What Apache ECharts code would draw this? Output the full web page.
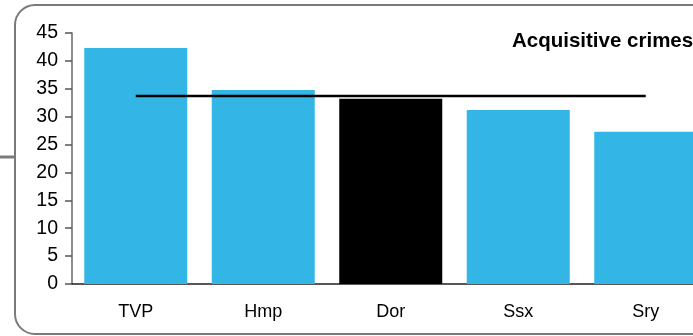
<!DOCTYPE html>
<html>
<head>
<meta charset="utf-8">
<script src="https://cdn.jsdelivr.net/npm/echarts@6/dist/echarts.min.js"></script>
<style>
html, body { margin:0; padding:0; overflow:hidden; background:#fff; }
#chart { width:720px; height:336px; }
</style>
</head>
<body>
<div id="chart"></div>
<script>
const categories = ['TVP', 'Hmp', 'Dor', 'Ssx', 'Sry'];
const values = [42.3, 34.8, 33.2, 31.2, 27.3];
const averageValue = 33.7;
const highlightCategory = 'Dor';
const yTicks = { min: 0, max: 45, interval: 5 };
const titleText = 'Acquisitive crimes';

const chart = echarts.init(document.getElementById('chart'), null, { renderer: 'canvas' });
const barData = values.map((v, i) => ({
  value: v,
  itemStyle: { color: categories[i] === highlightCategory ? '#000000' : '#33b6e6' }
}));
const avgData = categories.map(() => averageValue);

chart.setOption({
  animation: false,
  backgroundColor: '#ffffff',
  title: {
    text: titleText,
    left: 512,
    top: 31,
    padding: 0,
    textStyle: { fontFamily: 'Liberation Sans', fontWeight: 'bold', fontSize: 20.5, color: '#000' }
  },
  graphic: [
    { type: 'rect', shape: { x: 15, y: 5, width: 720, height: 329, r: 20 },
      style: { fill: 'none', stroke: '#7a7a7a', lineWidth: 2 }, z: -1 },
    { type: 'line', shape: { x1: 0, y1: 157, x2: 15, y2: 157 },
      style: { stroke: '#7a7a7a', lineWidth: 3 } }
  ],
  grid: { left: 72, top: 33, right: 10.5, height: 251, containLabel: false },
  xAxis: {
    type: 'category',
    data: categories,
    axisLine: { show: true, lineStyle: { color: '#222', width: 1.5 } },
    axisTick: { show: false },
    axisLabel: { margin: 19, fontFamily: 'Liberation Sans', fontSize: 18, color: '#000' }
  },
  yAxis: {
    type: 'value',
    min: yTicks.min, max: yTicks.max, interval: yTicks.interval,
    splitLine: { show: false },
    axisLine: { show: true, lineStyle: { color: '#666', width: 1.5 } },
    axisTick: { show: true, length: 7, lineStyle: { color: '#555', width: 1.5 } },
    axisLabel: { margin: 14, fontFamily: 'Liberation Sans', fontSize: 19.5, color: '#000' }
  },
  series: [
    { type: 'bar', data: barData, barWidth: 103, z: 2 },
    { type: 'line', data: avgData, symbol: 'none', z: 3,
      lineStyle: { color: '#000', width: 2.5 } }
  ]
});
</script>
</body>
</html>
